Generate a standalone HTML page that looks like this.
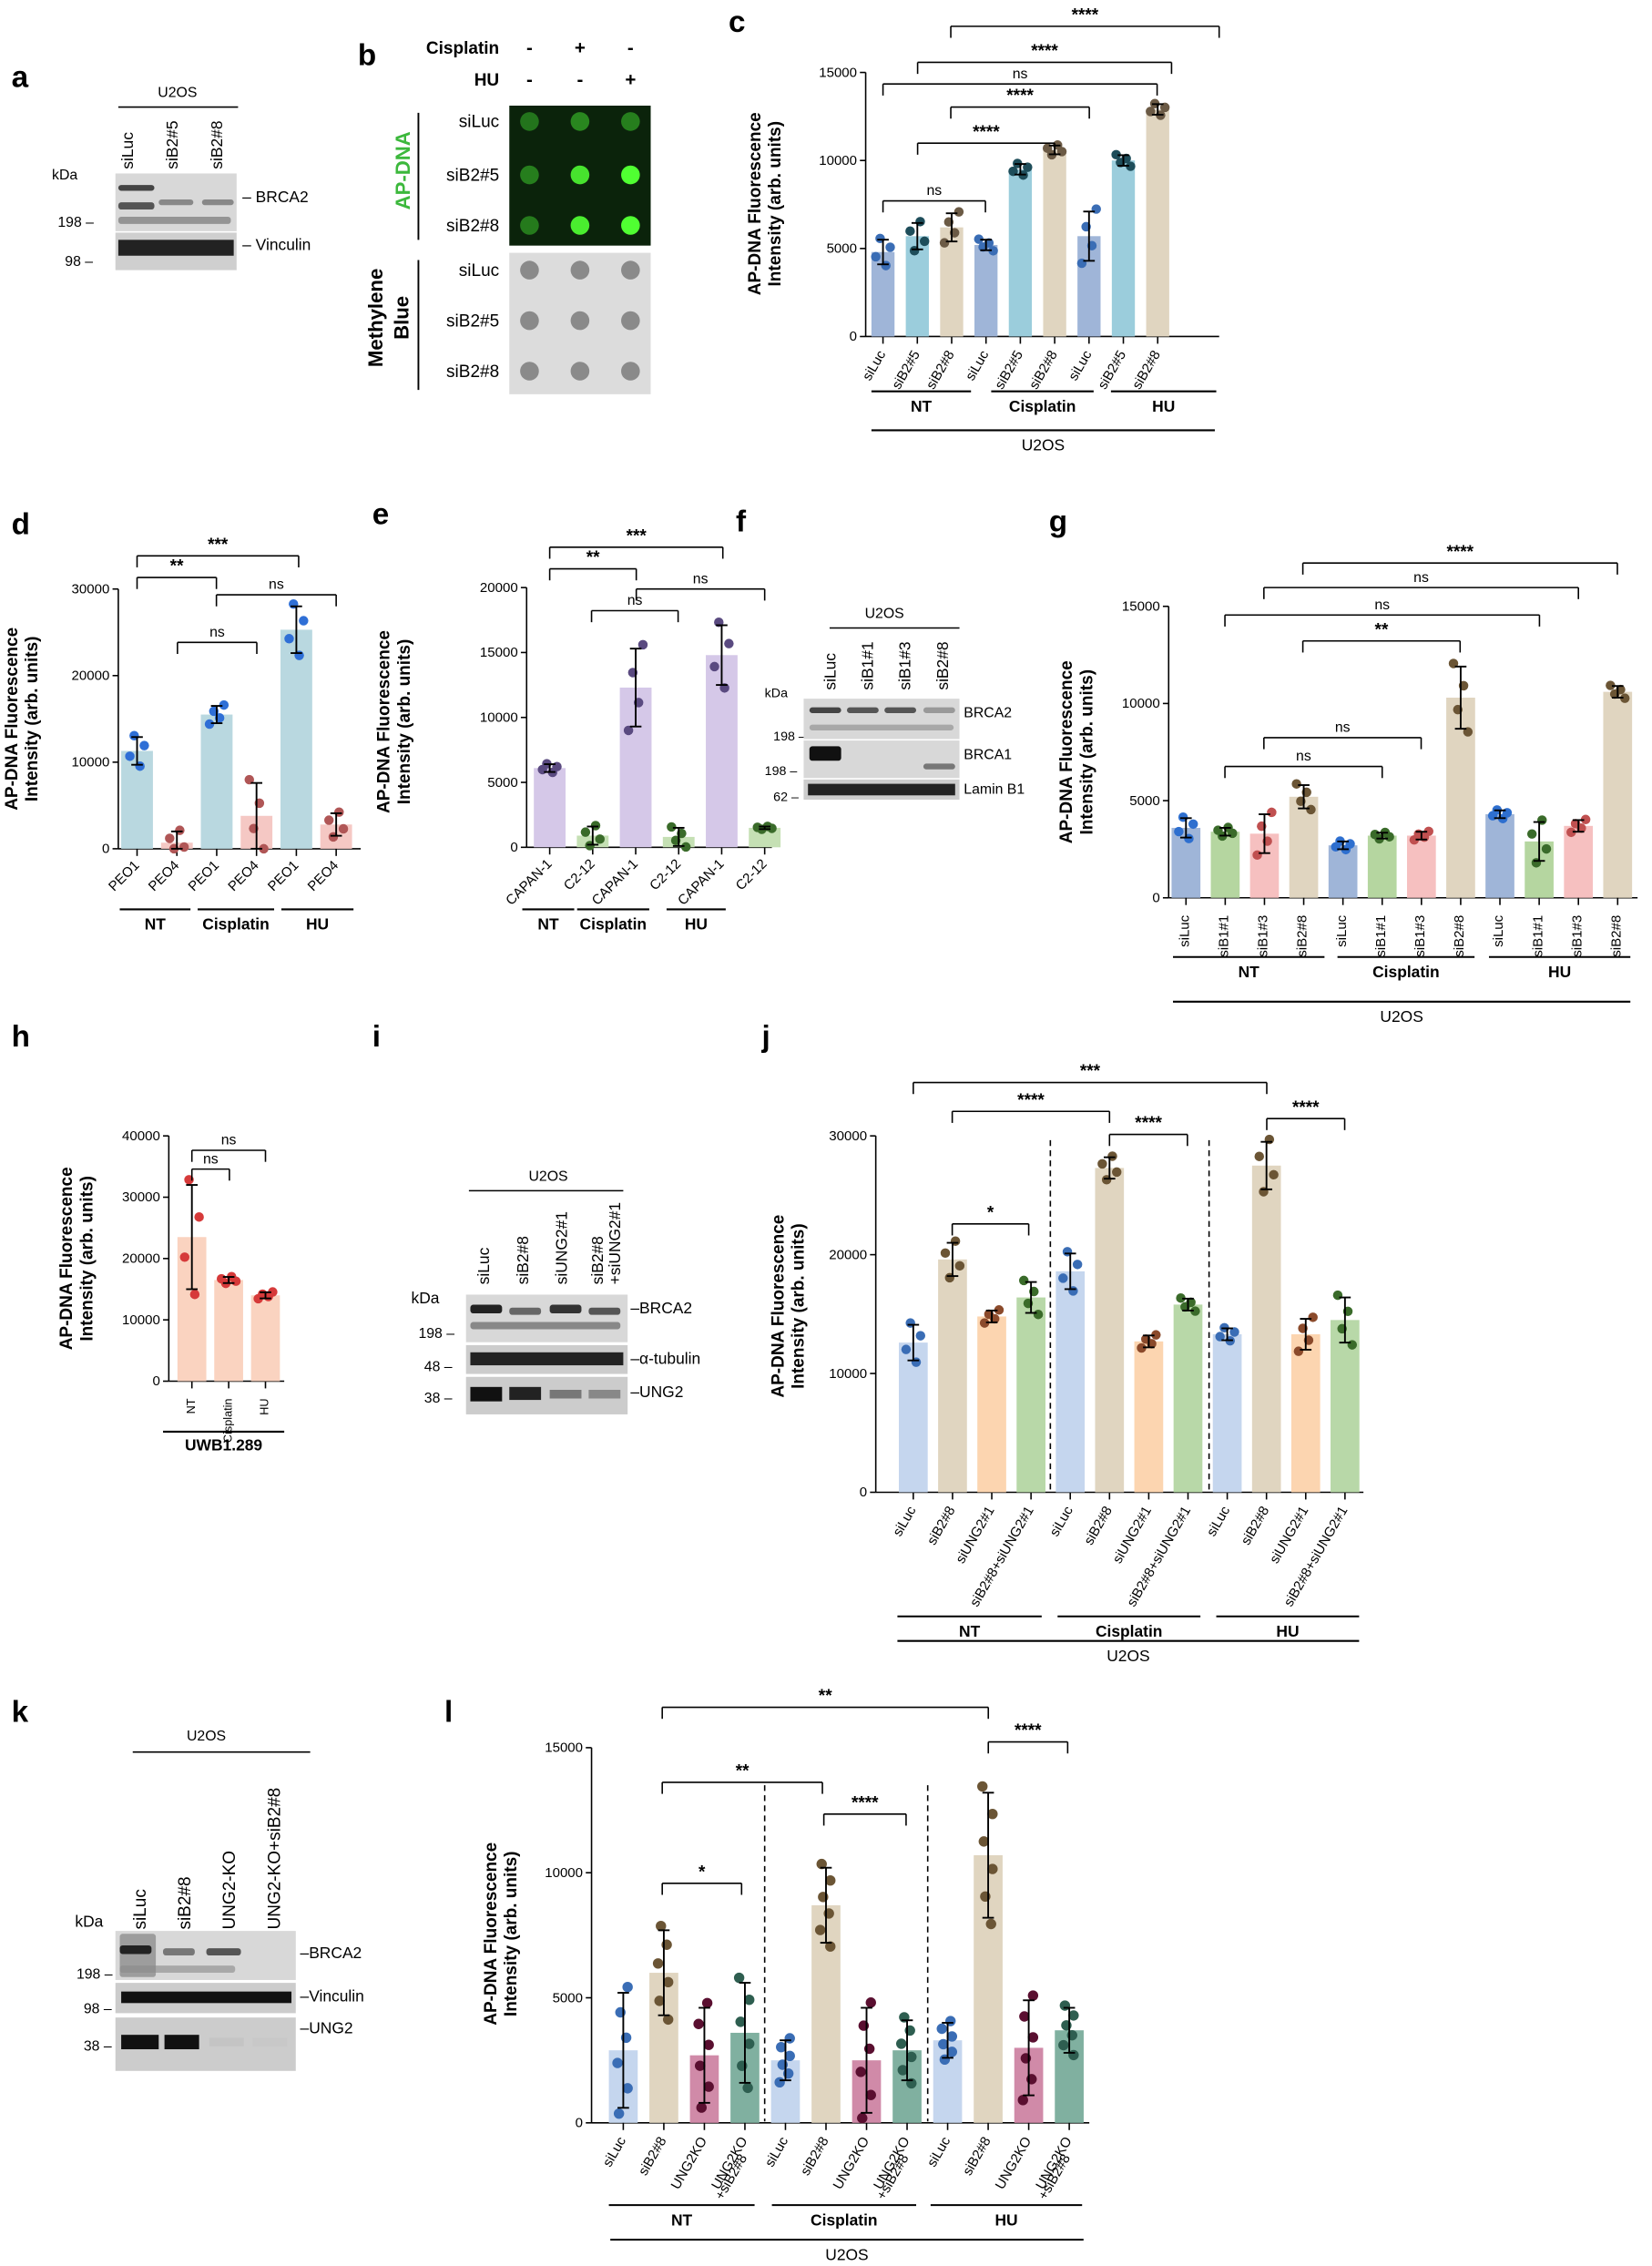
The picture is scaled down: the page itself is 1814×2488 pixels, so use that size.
<!DOCTYPE html>
<html><head><meta charset="utf-8">
<style>html,body{margin:0;padding:0;background:#fff}svg{display:block}text{font-family:"Liberation Sans",Arial,sans-serif}</style>
</head><body>
<svg id="s" xmlns="http://www.w3.org/2000/svg" width="1814" height="2488" viewBox="0 0 1145 1570"></svg>
<script>
let h='';
const T=(x,y,t,o={})=>{h+=`<text x="${x}" y="${y}" font-size="${o.fs||9}" ${o.b?'font-weight="bold"':''} text-anchor="${o.a||'start'}" fill="${o.c||'#000'}" ${o.r!=null?`transform="rotate(${o.r} ${x} ${y})"`:''} ${o.i?'font-style="italic"':''}>${t}</text>`;};
const L=(x1,y1,x2,y2,o={})=>{h+=`<line x1="${x1}" y1="${y1}" x2="${x2}" y2="${y2}" stroke="${o.c||'#000'}" stroke-width="${o.w||1}" ${o.d?'stroke-dasharray="4,3"':''}/>`;};
const R=(x,y,w,hh,f)=>{h+=`<rect x="${x}" y="${y}" width="${w}" height="${hh}" fill="${f}"/>`;};
const C=(x,y,r,f)=>{h+=`<circle cx="${x}" cy="${y}" r="${r}" fill="${f}"/>`;};
function chart(o){
 const sc=(o.y0-o.yt)/o.max, Y=v=>o.y0-v*sc;
 L(o.x0,o.yt,o.x0,o.y0);L(o.x0,o.y0,o.xe,o.y0);
 o.ticks.forEach(t=>{L(o.x0-4,Y(t),o.x0,Y(t));T(o.x0-6,Y(t)+3,t,{a:'end',fs:9.5});});
 o.bars.forEach((b,i)=>{
  R(b.x-o.bw/2,Y(b.v),o.bw,b.v*sc,b.c);
  L(b.x,o.y0,b.x,o.y0+5);
  const n=o.n||4, offs=n==4?[-1,-0.35,0.35,1]:[-1,-0.6,-0.2,0.2,0.6,1];
  const xo=n==4?[-5,-2,2,5]:[-3,3,-2,2,-4,3];
  const perm=[[1,3,0,2],[2,0,3,1],[0,2,1,3],[3,1,2,0]][i%4];
  for(let k=0;k<n;k++){const pv=offs[n==4?perm[k]:(k*5+i)%6];C(b.x+xo[k],Y(Math.max(0,b.v+pv*b.sd*1.1)),n==4?3.3:3.6,o.dc[i%o.dc.length]);}
  L(b.x,Y(b.v+b.sd),b.x,Y(Math.max(0,b.v-b.sd)),{w:1.2});
  L(b.x-4,Y(b.v+b.sd),b.x+4,Y(b.v+b.sd),{w:1.2});L(b.x-4,Y(Math.max(0,b.v-b.sd)),b.x+4,Y(Math.max(0,b.v-b.sd)),{w:1.2});
  T(b.x+2,o.y0+12,o.lab[i],{a:'end',r:o.rot||-60,fs:o.lfs||9.5});
 });
 (o.br||[]).forEach(q=>{const[x1,x2,y,l,d1,d2]=q;L(x1,y,x2,y);L(x1,y,x1,y+(d1||8));L(x2,y,x2,y+(d2||8));T((x1+x2)/2,y-4,l,{a:'middle',fs:l=='ns'?10:12,b:l!='ns'});});
 (o.grp||[]).forEach(g=>{L(g[0],o.gy,g[1],o.gy,{w:1.3});T((g[0]+g[1])/2,o.gy+14,g[2],{a:'middle',b:1,fs:11});});
 if(o.u){L(o.u[0],o.u[2],o.u[1],o.u[2],{w:1.3});T((o.u[0]+o.u[1])/2,o.u[2]+14,o.u[3],{a:'middle',fs:11});}
 T(o.ylx,o.yly,'AP-DNA Fluorescence',{r:-90,a:'middle',b:1,fs:12});
 T(o.ylx+14,o.yly,'Intensity (arb. units)',{r:-90,a:'middle',b:1,fs:12});
}
function blot(x,y,w,hh,bands){R(x,y,w,hh,'#d8d8d8');bands.forEach(b=>{h+=`<rect x="${b[0]}" y="${b[1]}" width="${b[2]}" height="${b[3]}" fill="${b[4]}" opacity="${b[5]||1}" rx="2"/>`;});}
// letters
[['a',8,60],['b',248,45],['c',505,22],['d',8,370],['e',258,363],['f',510,368],['g',727,368],['h',8,725],['i',258,725],['j',528,725],['k',8,1193],['l',308,1193]].forEach(p=>T(p[1],p[2],p[0],{b:1,fs:21}));
// panel a
T(123,67,'U2OS',{a:'middle',fs:10});L(82,74,165,74);
['siLuc','siB2#5','siB2#8'].forEach((t,i)=>T(92+i*31,117,t,{r:-90,fs:11}));
T(36,124,'kDa',{fs:10});T(40,157,'198 –',{fs:10});T(45,184,'98 –',{fs:10});
blot(80,120,84,40,[[82,128,25,4,'#444'],[82,140,25,5,'#555'],[110,138,24,4,'#888'],[140,138,22,4,'#888'],[82,150,78,5,'#777',0.7]]);
R(80,161,84,26,'#cfcfcf');R(82,166,80,11,'#222');
T(168,140,'– BRCA2',{fs:11});T(168,173,'– Vinculin',{fs:11});
// panel b
T(346,37,'Cisplatin',{b:1,fs:12,a:'end'});T(346,59,'HU',{b:1,fs:12,a:'end'});
[['-','+','-'],['-','-','+']].forEach((r,j)=>r.forEach((s,i)=>T(367+i*35,37+j*22,s,{a:'middle',b:1,fs:13})));
R(353,73,98,97,'#0b230b');R(353,175,98,98,'#dcdcdc');
const gi=[[0.25,0.35,0.3],[0.3,0.85,1],[0.28,0.9,1]];
[84,121,156].forEach((y,j)=>[367,402,437].forEach((x,i)=>{const a=gi[j][i];h+=`<circle cx="${x}" cy="${y}" r="6.5" fill="rgb(${20+60*a},${70+185*a},${20+30*a})"/>`;}));
[187,222,257].forEach(y=>[367,402,437].forEach(x=>C(x,y,6.5,'#8a8a8a')));
['siLuc','siB2#5','siB2#8'].forEach((t,j)=>{T(346,[88,125,160][j],t,{a:'end',fs:12});T(346,[191,226,261][j],t,{a:'end',fs:12});});
L(290,78,290,166,{w:1.2});L(290,180,290,270,{w:1.2});
T(284,118,'AP-DNA',{r:-90,a:'middle',b:1,fs:14,c:'#3cb83c'});
T(265,220,'Methylene',{r:-90,a:'middle',b:1,fs:14});T(283,220,'Blue',{r:-90,a:'middle',b:1,fs:14});
// panel c
const cC=['#9fb5d8','#9bcddc','#e0d5c0'],cD=['#3a6db5','#1e4d5a','#6b5a45'];
const cv=[[4800,700],[5700,750],[6200,800],[5200,300],[9500,300],[10600,250],[5700,1400],[10000,300],[12900,300]];
chart({x0:600,y0:233,yt:50,max:15000,xe:845,ticks:[0,5000,10000,15000],bw:16,
 bars:cv.map((v,i)=>({x:612+i*23.8,v:v[0],sd:v[1],c:cC[i%3]})),dc:cD,
 lab:['siLuc','siB2#5','siB2#8','siLuc','siB2#5','siB2#8','siLuc','siB2#5','siB2#8'],
 br:[[612,683,139,'ns'],[636,731,99,'****'],[659,755,74,'****'],[612,802,58,'ns'],[636,812,43,'****'],[659,845,18,'****']],
 gy:271,grp:[[604,673,'NT'],[687,758,'Cisplatin'],[770,843,'HU']],u:[604,842,298,'U2OS'],ylx:527,yly:141});
// panel d
chart({x0:82,y0:588,yt:408,max:30000,xe:250,ticks:[0,10000,20000,30000],bw:22,
 bars:[[11300,1600],[700,1300],[15500,1000],[3800,3800],[25300,2700],[2800,1300]].map((v,i)=>({x:95+i*27.6,v:v[0],sd:v[1],c:i%2?'#f5c8c4':'#b9d8e0'})),dc:['#2f6fd6','#b05656'],
 lab:['PEO1','PEO4','PEO1','PEO4','PEO1','PEO4'],rot:-45,
 br:[[95,150,400,'**'],[95,207,385,'***'],[123,178,445,'ns'],[150,233,412,'ns']],
 gy:630,grp:[[83,132,'NT'],[137,190,'Cisplatin'],[195,245,'HU']],ylx:12,yly:498});
// panel e
chart({x0:365,y0:587,yt:407,max:20000,xe:535,ticks:[0,5000,10000,15000,20000],bw:22,
 bars:[[6100,300],[900,700],[12300,3000],[800,700],[14800,2300],[1500,100]].map((v,i)=>({x:381+i*29.8,v:v[0],sd:v[1],c:i%2?'#c5e0b4':'#d5c8e8'})),dc:['#5a4a80','#3a6b2a'],
 lab:['CAPAN-1','C2-12','CAPAN-1','C2-12','CAPAN-1','C2-12'],rot:-45,
 br:[[381,441,394,'**'],[381,501,379,'***'],[410,470,423,'ns'],[441,530,408,'ns']],
 gy:630,grp:[[362,398,'NT'],[400,450,'Cisplatin'],[462,503,'HU']],ylx:270,yly:500});
// panel f
T(613,428,'U2OS',{a:'middle',fs:10});L(575,435,665,435);
['siLuc','siB1#1','siB1#3','siB2#8'].forEach((t,i)=>T(579+i*26,478,t,{r:-90,fs:11}));
T(530,483,'kDa',{fs:9});T(536,513,'198 –',{fs:9});T(530,537,'198 –',{fs:9});T(536,555,'62 –',{fs:9});
blot(557,484,108,28,[[561,490,22,4,'#444'],[587,490,22,4,'#555'],[613,490,22,4,'#555'],[640,490,22,4,'#999'],[561,502,100,4,'#888',0.6]]);
blot(557,513,108,26,[[561,517,22,10,'#111'],[640,529,22,4,'#777']]);
R(557,540,108,14,'#ccc');R(560,543,102,8,'#222');
T(668,497,'BRCA2',{fs:10});T(668,526,'BRCA1',{fs:10});T(668,550,'Lamin B1',{fs:10});
// panel g
const gC=['#9fb5d8','#b5d6a0','#f6c0c0','#e0d5c0'],gD=['#2e6fcf','#3a6b2a','#c05050','#6b5535'];
chart({x0:810,y0:622,yt:420,max:15000,xe:1135,ticks:[0,5000,10000,15000],bw:20,
 bars:[[3600,500],[3400,200],[3300,1000],[5200,600],[2700,200],[3200,150],[3200,200],[10300,1600],[4300,200],[2900,1000],[3700,300],[10600,300]].map((v,i)=>({x:822+i*27.2,v:v[0],sd:v[1],c:gC[i%4]})),dc:gD,
 lab:['siLuc','siB1#1','siB1#3','siB2#8','siLuc','siB1#1','siB1#3','siB2#8','siLuc','siB1#1','siB1#3','siB2#8'],rot:-90,
 br:[[849,958,531,'ns'],[876,985,511,'ns'],[903,1012,444,'**'],[849,1067,426,'ns'],[876,1094,407,'ns'],[903,1121,390,'****']],
 gy:663,grp:[[813,918,'NT'],[927,1022,'Cisplatin'],[1032,1130,'HU']],u:[813,1130,694,'U2OS'],ylx:743,yly:521});
// panel h
chart({x0:117,y0:957,yt:787,max:40000,xe:197,ticks:[0,10000,20000,30000,40000],bw:20,lfs:8,
 bars:[[23500,8500],[16500,500],[14000,500]].map((v,i)=>({x:133+i*25.5,v:v[0],sd:v[1],c:'#fad3c0'})),dc:['#d63a3a'],
 lab:['NT','Cisplatin','HU'],rot:-90,br:[[133,159,810,'ns'],[133,184,797,'ns']],ylx:50,yly:872});
L(113,992,197,992,{w:1.3});T(155,1005,'UWB1.289',{a:'middle',b:1,fs:11});
// panel i
T(380,818,'U2OS',{a:'middle',fs:10});L(325,825,432,825);
['siLuc','siB2#8','siUNG2#1'].forEach((t,i)=>T(339+i*27,890,t,{r:-90,fs:11}));
T(418,890,'siB2#8',{r:-90,fs:11});T(430,890,'+siUNG2#1',{r:-90,fs:11});
T(285,903,'kDa',{fs:11});T(290,927,'198 –',{fs:10});T(294,950,'48 –',{fs:10});T(294,972,'38 –',{fs:10});
blot(323,897,112,33,[[326,904,22,6,'#222'],[353,906,22,5,'#666'],[381,904,22,6,'#333'],[408,906,22,5,'#555'],[326,916,104,5,'#666',0.7]]);
R(323,932,112,20,'#ccc');R(326,937,106,9,'#222');
R(323,954,112,26,'#ccc');R(326,961,22,10,'#111');R(353,961,22,9,'#222');R(381,963,22,6,'#777');R(408,963,22,6,'#888');
T(437,910,'–BRCA2',{fs:11});T(437,945,'–α-tubulin',{fs:11});T(437,968,'–UNG2',{fs:11});
// panel j
const jC=['#c5d6ee','#e0d5c0','#fcd5b0','#b8d8a8'],jD=['#3a6db5','#6b5535','#8b4a2b','#3a6b2a'];
L(728,790,728,1032,{d:1});L(838,790,838,1032,{d:1});
chart({x0:607,y0:1034,yt:787,max:30000,xe:945,ticks:[0,10000,20000,30000],bw:20,
 bars:[[12600,1500],[19600,1400],[14800,500],[16400,1300],[18600,1500],[27300,900],[12700,500],[15800,500],[13300,500],[27500,2000],[13300,1300],[14500,1900]].map((v,i)=>({x:633+i*27.2,v:v[0],sd:v[1],c:jC[i%4]})),dc:jD,
 lab:['siLuc','siB2#8','siUNG2#1','siB2#8+siUNG2#1','siLuc','siB2#8','siUNG2#1','siB2#8+siUNG2#1','siLuc','siB2#8','siUNG2#1','siB2#8+siUNG2#1'],rot:-60,
 br:[[660,713,848,'*'],[660,769,770,'****'],[633,878,750,'***'],[769,823,786,'****'],[878,932,775,'****']],
 gy:1120,grp:[[622,722,'NT'],[733,832,'Cisplatin'],[843,942,'HU']],u:[622,942,1137,'U2OS'],ylx:543,yly:905});
// panel k
T(143,1206,'U2OS',{a:'middle',fs:10});L(92,1214,215,1214);
['siLuc','siB2#8','UNG2-KO','UNG2-KO+siB2#8'].forEach((t,i)=>T(101+i*31,1337,t,{r:-90,fs:12}));
T(52,1335,'kDa',{fs:11});T(53,1371,'198 –',{fs:10});T(58,1395,'98 –',{fs:10});T(58,1421,'38 –',{fs:10});
blot(80,1338,125,34,[[83,1340,25,30,'#777',0.6],[83,1348,22,6,'#222'],[113,1350,22,5,'#777'],[143,1350,24,5,'#555'],[83,1362,80,5,'#888',0.6]]);
R(80,1374,125,21,'#ccc');R(84,1380,118,8,'#111');
R(80,1398,125,37,'#ccc');R(84,1410,26,10,'#111');R(114,1410,24,10,'#111');R(145,1412,24,6,'#c4c4c4');R(175,1412,24,6,'#c8c8c8');
T(208,1357,'–BRCA2',{fs:11});T(208,1387,'–Vinculin',{fs:11});T(208,1409,'–UNG2',{fs:11});
// panel l
const lC=['#c5d6ee','#e0d5c0','#d08aa8','#80b0a0'],lD=['#3a6db5','#6b5535','#5a0f30','#2e5e50'];
L(530,1237,530,1470,{d:1});L(643,1237,643,1470,{d:1});
chart({x0:410,y0:1471,yt:1211,max:15000,xe:755,ticks:[0,5000,10000,15000],bw:20,n:6,
 bars:[[2900,2300],[6000,1700],[2700,1900],[3600,2000],[2500,800],[8700,1500],[2500,2100],[2900,1200],[3300,700],[10700,2500],[3000,1900],[3700,900]].map((v,i)=>({x:432+i*28.1,v:v[0],sd:v[1],c:lC[i%4]})),dc:lD,
 lab:['siLuc','siB2#8','UNG2KO','UNG2KO','siLuc','siB2#8','UNG2KO','UNG2KO','siLuc','siB2#8','UNG2KO','UNG2KO'],rot:-60,
 br:[[459,514,1305,'*'],[459,570,1235,'**'],[571,628,1257,'****'],[459,685,1183,'**'],[685,740,1207,'****']],
 gy:1528,grp:[[422,523,'NT'],[535,635,'Cisplatin'],[645,750,'HU']],u:[423,751,1552,'U2OS'],ylx:344,yly:1340});
[516,628,740].forEach(x=>T(x+2,1495,'+siB2#8',{a:'end',r:-60,fs:9.5}));
document.getElementById('s').innerHTML=h;
</script>
</body></html>
